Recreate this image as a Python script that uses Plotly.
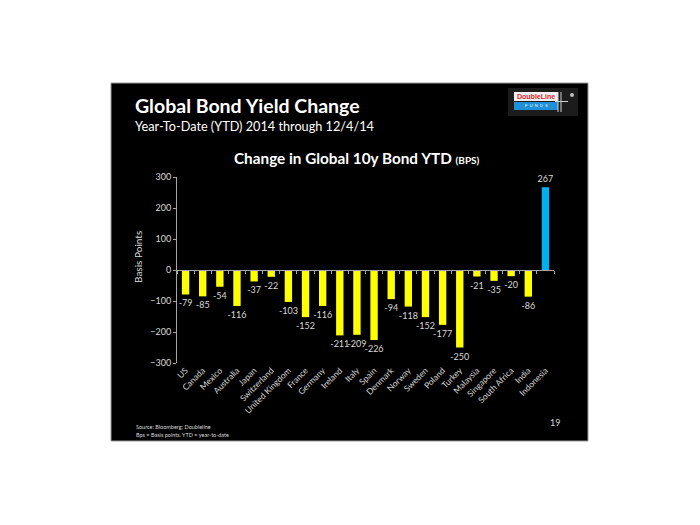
import plotly.graph_objects as go

countries = ["US", "Canada", "Mexico", "Australia", "Japan", "Switzerland",
             "United Kingdom", "France", "Germany", "Ireland", "Italy", "Spain",
             "Denmark", "Norway", "Sweden", "Poland", "Turkey", "Malaysia",
             "Singapore", "South Africa", "India", "Indonesia"]
change_bps = [-79, -85, -54, -116, -37, -22, -103, -152, -116, -211, -209, -226,
              -94, -118, -152, -177, -250, -21, -35, -20, -86, 267]
y_ticks = [-300, -200, -100, 0, 100, 200, 300]

W, H = 700, 525
L, R, T, B = 177, 554, 177, 363  # plot area in pixels


def px(x):
    return (x - L) / (R - L)


def py(y):
    return (B - y) / (B - T)


colors = ["#00B0F0" if c == "Indonesia" else "#FFFF00" for c in countries]
FONT = "Lato"
LABEL = "#D9D9D9"

fig = go.Figure()
fig.add_trace(go.Bar(
    x=countries, y=change_bps, marker=dict(color=colors, line=dict(width=0)),
    width=0.43, text=[str(v) for v in change_bps], textposition="outside",
    textfont=dict(family=FONT, size=9, color=LABEL), constraintext="none",
    cliponaxis=False, showlegend=False, hoverinfo="x+y"))

# invisible trace on second x axis for category-boundary ticks along zero line
fig.add_trace(go.Scatter(x=[-0.5, len(countries) - 0.5], y=[0, 0], xaxis="x2",
                         mode="lines", line=dict(width=0), showlegend=False,
                         hoverinfo="skip"))

shapes = [
    dict(type="rect", xref="paper", yref="paper", x0=px(111), x1=px(588),
         y0=py(441), y1=py(83), fillcolor="black",
         line=dict(color="#9A9A9A", width=1), layer="below"),
    # logo
    dict(type="rect", xref="paper", yref="paper", x0=px(508), x1=px(578),
         y0=py(116), y1=py(88), fillcolor="#1C1C1C", line=dict(width=0)),
    dict(type="rect", xref="paper", yref="paper", x0=px(514), x1=px(558),
         y0=py(101), y1=py(92), fillcolor="#F2F2F2", line=dict(width=0)),
    dict(type="rect", xref="paper", yref="paper", x0=px(514), x1=px(558),
         y0=py(110), y1=py(102), fillcolor="#1F8FD8", line=dict(width=0)),
    dict(type="line", xref="paper", yref="paper", x0=px(558), x1=px(558),
         y0=py(112), y1=py(92), line=dict(color="#D0D0D0", width=1)),
    dict(type="line", xref="paper", yref="paper", x0=px(555), x1=px(568),
         y0=py(101.5), y1=py(101.5), line=dict(color="#D0D0D0", width=1)),
    dict(type="line", xref="paper", yref="paper", x0=px(561), x1=px(561),
         y0=py(112), y1=py(92), line=dict(color="#D0D0D0", width=1)),
    dict(type="circle", xref="paper", yref="paper", x0=px(570), x1=px(574),
         y0=py(97), y1=py(93), fillcolor="#BFBFBF", line=dict(width=0)),
]

annotations = [
    dict(text="<b>Global Bond Yield Change</b>", x=px(133), y=py(105.5),
         xanchor="left", yanchor="middle", font=dict(family=FONT, size=19.5, color="white")),
    dict(text="Year-To-Date (YTD) 2014 through 12/4/14", x=px(133), y=py(126),
         xanchor="left", yanchor="middle", font=dict(family=FONT, size=12.7, color="white")),
    dict(text="<b>Change in Global 10y Bond YTD <span style='font-size:10px'>(BPS)</span></b>",
         x=px(357), y=py(157.5), xanchor="center", yanchor="middle",
         font=dict(family=FONT, size=15.3, color="white")),
    dict(text="Basis Points", x=px(138), y=py(257), xanchor="center", yanchor="middle",
         textangle=-90, font=dict(family=FONT, size=10, color=LABEL)),
    dict(text="Source: Bloomberg; Doubleline", x=px(134), y=py(427),
         xanchor="left", yanchor="middle", font=dict(family=FONT, size=5.5, color=LABEL)),
    dict(text="Bps = Basis points. YTD = year-to-date", x=px(134), y=py(435),
         xanchor="left", yanchor="middle", font=dict(family=FONT, size=5.5, color=LABEL)),
    dict(text="19", x=px(555), y=py(422), xanchor="center", yanchor="middle",
         font=dict(family=FONT, size=9, color=LABEL)),
    dict(text="<b>DoubleLine</b>", x=px(536), y=py(96.5), xanchor="center", yanchor="middle",
         font=dict(family="Liberation Sans", size=7, color="#E0262B")),
    dict(text="F  U  N  D  S", x=px(536), y=py(106), xanchor="center", yanchor="middle",
         font=dict(family="Liberation Sans", size=4, color="white")),
]
for a in annotations:
    a.update(xref="paper", yref="paper", showarrow=False)

fig.update_layout(
    width=W, height=H,
    margin=dict(l=L, r=W - R, t=T, b=H - B, pad=0),
    paper_bgcolor="white", plot_bgcolor="black",
    shapes=shapes, annotations=annotations,
    bargap=0.57,
    xaxis=dict(type="category", range=[-0.5, len(countries) - 0.5], showline=False,
               ticks="", showgrid=False, zeroline=False, tickangle=-45,
               tickfont=dict(family=FONT, size=8.5, color=LABEL)),
    xaxis2=dict(overlaying="x", anchor="free", position=py(270), range=[-0.5, len(countries) - 0.5],
                tickvals=[i - 0.5 for i in range(len(countries) + 1)], showticklabels=False,
                ticks="outside", ticklen=3, tickcolor="#A6A6A6", showline=True,
                linecolor="#A6A6A6", linewidth=1, showgrid=False, zeroline=False),
    yaxis=dict(range=[-300, 300], tickvals=y_ticks, showgrid=False, zeroline=False,
               showline=True, linecolor="#A6A6A6", linewidth=1, ticks="outside",
               ticklen=3, tickcolor="#A6A6A6",
               tickfont=dict(family=FONT, size=9, color=LABEL)),
)

fig.write_html("out.html")
